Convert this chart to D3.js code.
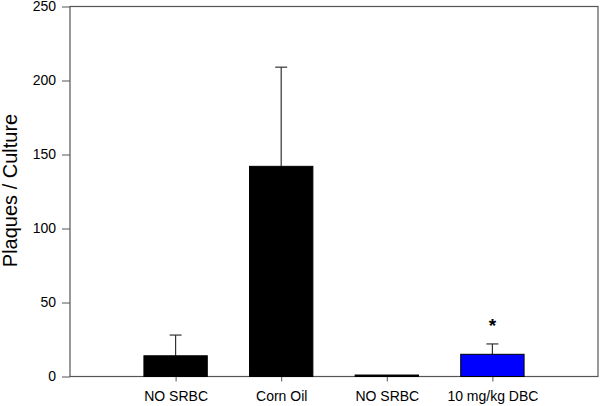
<!DOCTYPE html>
<html>
<head>
<meta charset="utf-8">
<script src="https://cdn.jsdelivr.net/npm/d3@7"></script>
<style>
  body { margin: 0; background: #fff; }
  svg text { font-family: Arial, "Liberation Sans", sans-serif; }
</style>
</head>
<body>
<div id="chart"></div>
<script>
// data
const categories = ["NO SRBC", "Corn Oil", "NO SRBC", "10 mg/kg DBC"];
const means = [14, 142, 1, 15];
const errors = [14, 67, 0, 7];
const barColors = ["#000000", "#000000", "#000000", "#0000ff"];
const significant = [false, false, false, true];
const yTicks = [0, 50, 100, 150, 200, 250];

const width = 600, height = 406;
const margin = { top: 6.5, right: 2, bottom: 29.5, left: 70 };

const svg = d3.select("#chart").append("svg")
  .attr("width", width)
  .attr("height", height);

// bars sit at 1..4 on a 0..5 axis
const x = d3.scaleLinear().domain([0, categories.length + 1])
  .range([margin.left, width - margin.right]);
const y = d3.scaleLinear().domain([0, 250])
  .range([height - margin.bottom, margin.top]);

const barW = (x(1) - x(0)) * 0.6;
const axisColor = "#555";

// frame
svg.append("rect")
  .attr("x", x(0)).attr("y", y(250))
  .attr("width", x(5) - x(0)).attr("height", y(0) - y(250))
  .attr("fill", "none").attr("stroke", axisColor).attr("stroke-width", 1.2);

// y axis
const yAxis = svg.append("g")
  .attr("transform", `translate(${x(0)},0)`)
  .call(d3.axisLeft(y).tickValues(yTicks).tickSize(8).tickPadding(6));
yAxis.select(".domain").remove();
yAxis.selectAll("line").attr("stroke", axisColor);
yAxis.selectAll("text").attr("font-size", 14).attr("fill", "#000")
  .attr("font-family", "Arial, 'Liberation Sans', sans-serif");

// x axis
const xAxis = svg.append("g")
  .attr("transform", `translate(0,${y(0)})`)
  .call(d3.axisBottom(x).tickValues(d3.range(1, categories.length + 1))
    .tickFormat(i => categories[i - 1]).tickSize(5).tickPadding(9.5));
xAxis.select(".domain").remove();
xAxis.selectAll("line").attr("stroke", axisColor);
xAxis.selectAll("text").attr("font-size", 14).attr("fill", "#000")
  .attr("font-family", "Arial, 'Liberation Sans', sans-serif");

// error bars (upper only), drawn before bars
const err = svg.append("g").attr("stroke", "#333").attr("stroke-width", 1.2);
means.forEach((m, i) => {
  if (!errors[i]) return;
  const cx = x(i + 1);
  err.append("line").attr("x1", cx).attr("x2", cx)
    .attr("y1", y(m)).attr("y2", y(m + errors[i]));
  err.append("line").attr("x1", cx - 6).attr("x2", cx + 6)
    .attr("y1", y(m + errors[i])).attr("y2", y(m + errors[i]));
});

// bars
svg.append("g").selectAll("rect")
  .data(means)
  .join("rect")
  .attr("x", (d, i) => x(i + 1) - barW / 2)
  .attr("y", d => y(d))
  .attr("width", barW)
  .attr("height", d => y(0) - y(d))
  .attr("fill", (d, i) => barColors[i])
  .attr("stroke", "#000")
  .attr("stroke-width", 1);

// significance marks
svg.append("g").selectAll("text")
  .data(means.map((m, i) => ({ m, i })).filter(d => significant[d.i]))
  .join("text")
  .attr("x", d => x(d.i + 1))
  .attr("y", d => y(d.m + errors[d.i]) - 12)
  .attr("text-anchor", "middle")
  .attr("font-size", 19)
  .attr("font-weight", "bold")
  .text("*");

// y label
svg.append("text")
  .attr("transform", `translate(16.5,190.5) rotate(-90)`)
  .attr("text-anchor", "middle")
  .attr("font-size", 20)
  .text("Plaques / Culture");
</script>
</body>
</html>
